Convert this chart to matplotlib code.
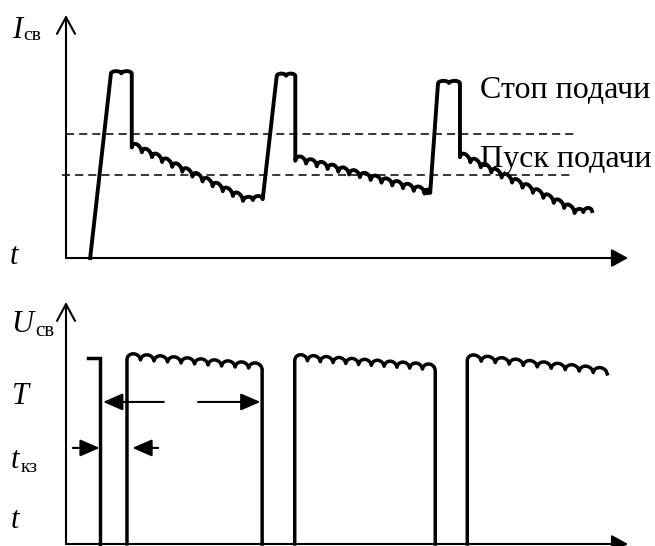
import matplotlib.pyplot as plt
import numpy as np

plt.rcParams["font.family"] = ["Liberation Serif", "DejaVu Serif"]

# welding current, one entry per pulse (time and current in arbitrary units, axis = 0..100)
rise_t = [4.3, 35.0, 64.8]
peak_t0 = [8.0, 37.5, 66.2]
peak_t1 = [11.7, 40.8, 70.1]
peak_i = [76.0, 75.0, 72.0]
drop_i = [45.5, 40.0, 41.5]
decay_t = [31.5, 63.8, 90.5]
decay_i = [23.5, 26.5, 18.5]
tail_t = [35.0, 64.8, 93.6]
tail_i = [24.2, 26.8, 19.3]
decay_humps = [11, 12, 11]

# feed control levels
stop_level = 51.0
start_level = 34.2
level_t0 = [0.0, -0.7]
level_t1 = [90.9, 90.2]

# arc voltage, one entry per arcing period
short_t = [3.9, 6.05]
short_u = 76.9
arc_t0 = [10.85, 40.7, 71.4]
arc_t1 = [34.9, 65.7, 96.3]
arc_u0 = [76.5, 76.1, 76.1]
arc_u1 = [72.3, 71.9, 70.3]
arc_humps = [10, 11, 10]
arc_drop = [True, True, False]

# period / short circuit marks
period_u = 58.7
period_marks = [(17.4, 6.6), (23.5, 34.6)]
short_mark_u = 39.7
short_marks = [(1.2, 6.0), (16.4, 11.8)]

W, H = 655, 546


def scallop(t0, y0, t1, y1, n, amp, pts=14):
    s = np.linspace(0, 1, n * pts + 1)
    bump = amp * np.sqrt(np.abs(np.sin(np.pi * n * s)))
    return t0 + (t1 - t0) * s, y0 + (y1 - y0) * s + bump


def fx(x):
    return x / W


def fy(y):
    return 1 - y / H


def axis_arrows(ax):
    ax.annotate("", xy=(0, 1), xytext=(0, 0), xycoords="axes fraction",
                arrowprops=dict(arrowstyle="->,head_length=12,head_width=6.5", mutation_scale=1,
                                lw=1.5, color="k", shrinkA=0, shrinkB=0))
    ax.annotate("", xy=(1, 0), xytext=(0, 0), xycoords="axes fraction",
                arrowprops=dict(arrowstyle="-|>,head_length=10,head_width=5.5", mutation_scale=1,
                                lw=1.5, color="k", shrinkA=0, shrinkB=0))


def mark(ax, tail, tip, u):
    ax.annotate("", xy=(tip, u), xytext=(tail, u),
                arrowprops=dict(arrowstyle="-|>,head_length=12,head_width=5.2", mutation_scale=1,
                                lw=1.5, color="k", shrinkA=0, shrinkB=0))


fig = plt.figure(figsize=(W / 100, H / 100), dpi=100)
ax1 = fig.add_axes([fx(66), fy(258), (628 - 66) / W, (258 - 15) / H])
ax2 = fig.add_axes([fx(66), fy(544), (628 - 66) / W, (544 - 302) / H])
for ax in (ax1, ax2):
    ax.set_xlim(0, 100)
    ax.set_ylim(0, 100)
    ax.axis("off")
    axis_arrows(ax)

# current trace
ts, ys = [rise_t[0]], [0.0]
for k in range(3):
    ts.append(peak_t0[k])
    ys.append(peak_i[k])
    pt, pi = scallop(peak_t0[k], peak_i[k], peak_t1[k], peak_i[k], 2, 0.9)
    ts += list(pt)
    ys += list(pi)
    ts.append(peak_t1[k])
    ys.append(drop_i[k])
    dt, di = scallop(peak_t1[k], drop_i[k], decay_t[k], decay_i[k], decay_humps[k], 2.3)
    ts += list(dt)
    ys += list(di)
    ft, fi = scallop(decay_t[k], decay_i[k], tail_t[k], tail_i[k], 2, 1.5)
    ts += list(ft)
    ys += list(fi)
ax1.plot(ts, ys, color="k", lw=2.8, solid_joinstyle="round", clip_on=False)

ax1.plot([level_t0[0], level_t1[0]], [stop_level, stop_level], color="k", lw=1.1,
         ls=(0, (5.3, 3.3)), clip_on=False)
ax1.plot([level_t0[1], level_t1[1]], [start_level, start_level], color="k", lw=1.1,
         ls=(0, (5.3, 3.3)), clip_on=False)

# voltage trace
ax2.plot([short_t[0], short_t[1], short_t[1]], [short_u, short_u, 0], color="k", lw=2.5,
         solid_joinstyle="miter", clip_on=False)
for k in range(3):
    at, au = scallop(arc_t0[k], arc_u0[k], arc_t1[k], arc_u1[k], arc_humps[k], 2.3)
    xs = [arc_t0[k], arc_t0[k]] + list(at)
    us = [0, arc_u0[k]] + list(au)
    if arc_drop[k]:
        xs += [arc_t1[k]]
        us += [0]
    ax2.plot(xs, us, color="k", lw=2.5, solid_joinstyle="round", clip_on=False)

for tail, tip in period_marks:
    mark(ax2, tail, tip, period_u)
for tail, tip in short_marks:
    mark(ax2, tail, tip, short_mark_u)

# labels
fig.text(fx(12), fy(30), "I", fontsize=22, style="italic", va="center")
fig.text(fx(23), fy(36), "св", fontsize=14, va="center")
fig.text(fx(10), fy(256), "t", fontsize=22, style="italic", va="center")
fig.text(fx(480), fy(91), "Стоп подачи", fontsize=23, va="center")
fig.text(fx(480), fy(159), "Пуск подачи", fontsize=23, va="center")

fig.text(fx(11), fy(325), "U", fontsize=22, style="italic", va="center")
fig.text(fx(35), fy(332), "св", fontsize=15, va="center")
fig.text(fx(12), fy(397), "T", fontsize=22, style="italic", va="center")
fig.text(fx(11), fy(461), "t", fontsize=22, style="italic", va="center")
fig.text(fx(21), fy(468), "кз", fontsize=14, va="center")
fig.text(fx(11), fy(520), "t", fontsize=22, style="italic", va="center")

fig.savefig("out.png", dpi=100)
